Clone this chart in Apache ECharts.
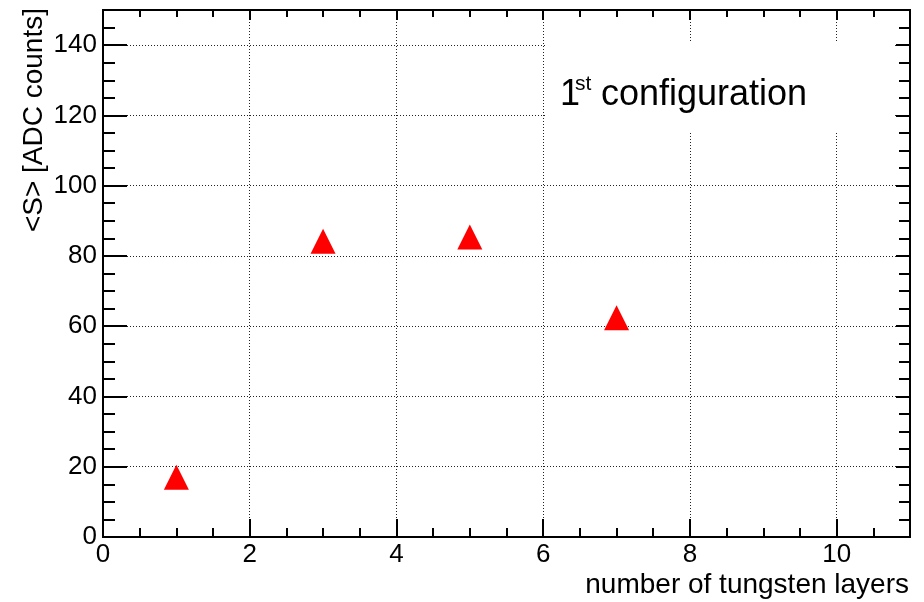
<!DOCTYPE html>
<html>
<head>
<meta charset="utf-8">
<script src="https://cdn.jsdelivr.net/npm/echarts@6/dist/echarts.min.js"></script>
<style>
  html, body { margin: 0; padding: 0; background: #ffffff; }
  #chart { width: 924px; height: 602px; }
</style>
</head>
<body>
<div id="chart"></div>
<script>
// ---- data ----
const layers = [1, 3, 5, 7];
const signal = [17.0, 84.2, 85.4, 62.4];
const xRange = [0, 11];
const yRange = [0, 150];
const xMajor = 2, xMinor = 0.5;
const yMajor = 20, yMinor = 5;
const xTitle = 'number of tungsten layers';
const yTitle = '<S> [ADC counts]';
const labelMain = '1';
const labelSup = 'st';
const labelRest = 'configuration';

const FONT = '"Liberation Sans", Arial, Helvetica, sans-serif';
const BLACK = '#000000';

function xAxisDef(pos, interval, tickLen, labels, split) {
  return {
    type: 'value', position: pos, min: xRange[0], max: xRange[1], interval: interval,
    axisLine: { show: true, onZero: false, lineStyle: { color: BLACK, width: 2 } },
    axisTick: { show: true, inside: true, length: tickLen, lineStyle: { color: BLACK, width: 2 } },
    axisLabel: { show: labels, showMaxLabel: false, margin: 5, color: BLACK, fontSize: 26, fontFamily: FONT },
    splitLine: { show: split, lineStyle: { color: '#222', width: 1, type: [1, 2] } },
    minorTick: { show: false }, minorSplitLine: { show: false }
  };
}
function yAxisDef(pos, interval, tickLen, labels, split) {
  return {
    type: 'value', position: pos, min: yRange[0], max: yRange[1], interval: interval,
    axisLine: { show: true, onZero: false, lineStyle: { color: BLACK, width: 2 } },
    axisTick: { show: true, inside: true, length: tickLen, lineStyle: { color: BLACK, width: 2 } },
    axisLabel: { show: labels, showMaxLabel: false, margin: 6, color: BLACK, fontSize: 26, fontFamily: FONT },
    splitLine: { show: split, lineStyle: { color: '#222', width: 1, type: [1, 2] } },
    minorTick: { show: false }, minorSplitLine: { show: false }
  };
}

const chart = echarts.init(document.getElementById('chart'), null, { renderer: 'canvas' });
chart.setOption({
  backgroundColor: '#ffffff',
  animation: false,
  grid: { left: 103, right: 14, top: 10, bottom: 65, containLabel: false },
  xAxis: [
    xAxisDef('bottom', xMajor, 18, true, true),
    xAxisDef('bottom', xMinor, 9, false, false),
    xAxisDef('top', xMajor, 10, false, false),
    xAxisDef('top', xMinor, 7, false, false)
  ],
  yAxis: [
    yAxisDef('left', yMajor, 24, true, true),
    yAxisDef('left', yMinor, 12, false, false),
    yAxisDef('right', yMajor, 14, false, false),
    yAxisDef('right', yMinor, 11, false, false)
  ],
  series: [{
    type: 'scatter',
    xAxisIndex: 0, yAxisIndex: 0,
    symbol: 'triangle',
    symbolSize: 25,
    itemStyle: { color: '#ff0000', opacity: 1 },
    emphasis: { disabled: true },
    z: 20,
    data: layers.map((x, i) => [x, signal[i]])
  }],
  graphic: [
    { type: 'rect', z: 10, shape: { x: 546, y: 42, width: 349, height: 90 }, style: { fill: '#ffffff' } },
    { type: 'text', z: 11, x: 560, y: 95, style: { text: labelMain, font: '36px ' + FONT, fill: BLACK, align: 'left', verticalAlign: 'middle' } },
    { type: 'text', z: 11, x: 575, y: 84, style: { text: labelSup, font: '21px ' + FONT, fill: BLACK, align: 'left', verticalAlign: 'middle' } },
    { type: 'text', z: 11, x: 601, y: 95, style: { text: labelRest, font: '36px ' + FONT, fill: BLACK, align: 'left', verticalAlign: 'middle' } },
    { type: 'text', z: 11, x: 909, y: 585, style: { text: xTitle, font: '28px ' + FONT, fill: BLACK, align: 'right', verticalAlign: 'middle' } },
    { type: 'text', z: 11, x: 34, y: 8, rotation: Math.PI / 2, style: { text: yTitle, font: '28px ' + FONT, fill: BLACK, align: 'right', verticalAlign: 'middle' } }
  ]
});
</script>
</body>
</html>
